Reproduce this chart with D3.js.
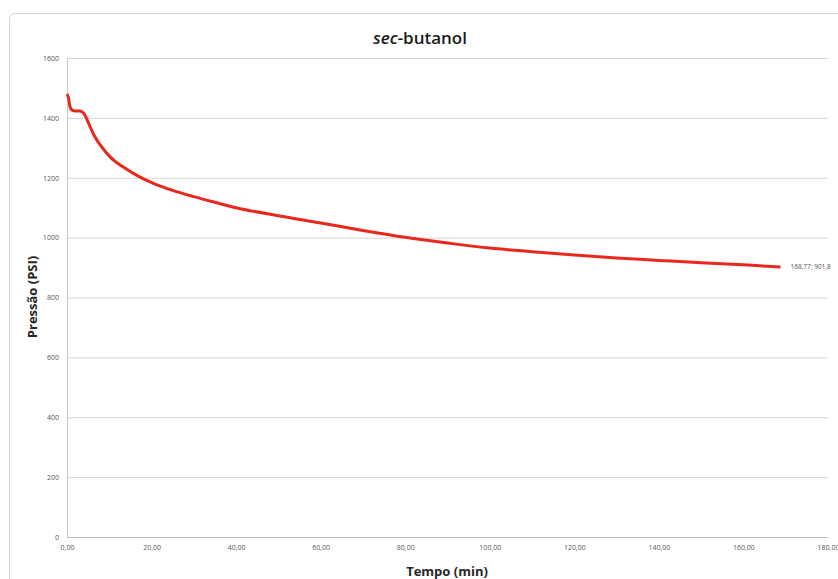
<!DOCTYPE html>
<html lang="pt">
<head>
    <meta charset="utf-8">
    <script type="text/javascript" src="https://cdn.jsdelivr.net/npm/d3@7"></script>
    <style>
        body { margin: 0; background: #fff; }
        text { font-family: "Open Sans", "Noto Sans", sans-serif; }
    </style>
</head>
<body>
<script type="text/javascript">

    //Width and height
    let w = 838;
    let h = 579;

    //Data: time (min) and pressure (PSI)
    let tempo = [0, 0.3, 0.7, 1.2, 2, 3, 3.6, 4.3, 5.2, 6.4, 8, 10.3, 13.5, 17.4, 21, 25, 30, 35,
        40, 50, 60, 70, 80, 90, 100, 110, 120, 130, 140, 150, 160, 168.77];
    let pressao = [1480, 1470, 1438, 1426, 1423, 1423, 1420, 1408, 1379, 1342, 1307, 1268, 1234, 1201, 1178, 1158, 1137, 1118,
        1100, 1073, 1049, 1024, 1001, 982, 965, 953, 942, 932, 924, 916, 909, 901.8];

    let xTicks = [0, 20, 40, 60, 80, 100, 120, 140, 160, 180];
    let yTicks = [0, 200, 400, 600, 800, 1000, 1200, 1400, 1600];
    let lastLabel = "168,77; 901,8";

    let data = tempo.map((t, i) => ({t: t, p: pressao[i]}));

    let margin = {left: 67, right: 10, top: 58, bottom: 42};

    let x = d3.scaleLinear()
        .domain([0, 180])
        .range([margin.left, w - margin.right]);

    let y = d3.scaleLinear()
        .domain([0, 1600])
        .range([h - margin.bottom, margin.top]);

    let fmt = d => d3.format(".2f")(d).replace(".", ",");

    //Create SVG element
    let svg = d3.select("body")
        .append("svg")
        .attr("width", w)
        .attr("height", h);

    //chart frame
    svg.append("rect")
        .attr("x", 9.5)
        .attr("y", 13.5)
        .attr("width", 860)
        .attr("height", 600)
        .attr("rx", 5)
        .attr("fill", "#fff")
        .attr("stroke", "#d4d4d4");

    //gridlines
    svg.append("g")
        .attr("transform", `translate(${margin.left},0)`)
        .attr("color", "#555")
        .call(d3.axisLeft(y).tickValues(yTicks).tickSize(-(w - margin.left - margin.right)).tickFormat(d => d))
        .call(g => g.select(".domain").remove())
        .call(g => g.selectAll(".tick line").attr("stroke", "#d6d6d6"))
        .call(g => g.selectAll(".tick text")
            .attr("x", -8)
            .style("font-size", "7px"));

    //left axis line
    svg.append("line")
        .attr("x1", margin.left + 0.5).attr("x2", margin.left + 0.5)
        .attr("y1", y(1600)).attr("y2", y(0))
        .attr("stroke", "#c8c8c8");

    //bottom axis
    svg.append("g")
        .attr("transform", `translate(0,${y(0)})`)
        .attr("color", "#555")
        .call(d3.axisBottom(x).tickValues(xTicks).tickSize(0).tickFormat(fmt))
        .call(g => g.select(".domain").attr("stroke", "#bdbdbd"))
        .call(g => g.selectAll(".tick text")
            .attr("y", 8)
            .style("font-size", "7px"));

    //pressure curve
    let line = d3.line()
        .x(d => x(d.t))
        .y(d => y(d.p))
        .curve(d3.curveMonotoneX);

    svg.append("path")
        .datum(data)
        .attr("d", line)
        .attr("fill", "none")
        .attr("stroke", "#e8281c")
        .attr("stroke-width", 3)
        .attr("stroke-linejoin", "round");

    //label at last point
    let last = data[data.length - 1];
    svg.append("text")
        .attr("x", x(last.t) + 10)
        .attr("y", y(last.p) + 2)
        .attr("fill", "#555")
        .style("font-size", "6.5px")
        .text(lastLabel);

    //title
    let title = svg.append("text")
        .attr("x", 420)
        .attr("y", 44)
        .attr("text-anchor", "middle")
        .attr("fill", "#1a1a1a")
        .style("font-size", "17px")
        .style("font-weight", "600");
    title.append("tspan").style("font-style", "italic").text("sec");
    title.append("tspan").text("-butanol");

    //axis titles
    svg.append("text")
        .attr("x", 447)
        .attr("y", 576)
        .attr("text-anchor", "middle")
        .attr("fill", "#262626")
        .style("font-size", "13px")
        .style("font-weight", "bold")
        .text("Tempo (min)");

    svg.append("text")
        .attr("transform", "translate(37,297) rotate(-90)")
        .attr("text-anchor", "middle")
        .attr("fill", "#262626")
        .style("font-size", "13px")
        .style("font-weight", "bold")
        .text("Pressão (PSI)");

</script>
</body>
</html>
